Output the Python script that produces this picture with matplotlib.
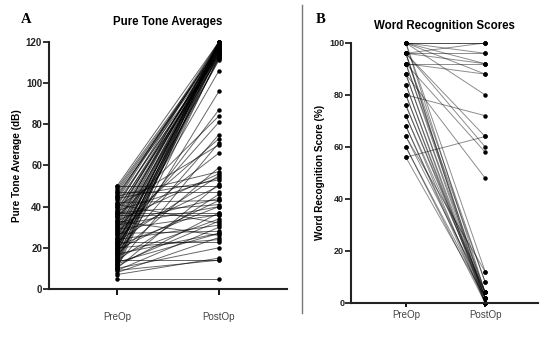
import matplotlib
matplotlib.use("Agg")
import matplotlib.pyplot as plt
from matplotlib.lines import Line2D

plt.rcParams['font.family'] = ['Liberation Sans', 'DejaVu Sans']

groups = ['PreOp', 'PostOp']

# Panel A: pure tone averages (dB), one pair per ear
pta_pre = [12, 15, 18, 20, 22, 25, 28, 30, 33, 35, 38, 40, 42, 45, 48, 50,
           10, 13, 16, 19, 21, 24, 27, 29, 31, 34, 36, 39, 41, 43, 46, 49,
           11, 14, 17, 23, 26, 32, 37, 44, 47, 20, 18, 22, 25,
           20, 15, 22, 35, 25, 18, 30, 12, 40, 28, 17, 45, 33, 23, 38, 10,
           50, 26, 14, 32, 19, 47, 37, 21, 11, 37, 29, 16, 41, 24, 9, 27,
           13, 33, 8, 20, 23, 10, 7, 14, 5, 36, 42, 31, 17, 44, 12, 9]
pta_post = [120, 119, 118, 120, 117, 116, 120, 118, 115, 119, 117, 120, 114, 118, 116, 120,
            113, 115, 112, 116, 119, 114, 117, 113, 120, 116, 118, 112, 115, 119, 113, 117,
            118, 116, 120, 111, 119, 117, 114, 120, 115, 112, 114, 119, 118,
            106, 96, 87, 84, 81, 75, 73, 71, 70, 66, 59, 57, 56, 55, 54, 51,
            50, 50, 46, 44, 43, 47, 41, 40, 37, 37, 36, 34, 32, 31, 30, 28,
            27, 26, 25, 24, 23, 20, 15, 14, 5, 36, 43, 40, 27, 53, 33, 14]

# Panel B: word recognition scores (%)
wrs_pre = [100, 100, 100, 100, 100, 96, 96, 92, 92, 96, 80, 56,
           100, 96, 92, 96, 88,
           100, 96, 92, 88, 84, 80, 76, 72, 68, 64, 60, 56,
           100, 96, 96, 92, 88, 84, 80, 76, 72, 68, 64, 60]
wrs_post = [100, 96, 92, 88, 100, 96, 100, 92, 88, 92, 72, 64,
            80, 60, 58, 64, 48,
            12, 8, 4, 2, 0, 2, 4, 0, 2, 4, 0, 2,
            4, 0, 2, 8, 4, 2, 0, 2, 4, 0, 12, 2]

fig = plt.figure(figsize=(5.47, 3.38), dpi=100)


def paired(ax, pre, post, ymax, ystep, ylabel, title, letter, xlim,
           ytick_fs, xtick_len, pad, line_alpha, title_pad):
    for a, b in zip(pre, post):
        ax.plot([0, 1], [a, b], color='black', lw=0.7, alpha=line_alpha,
                solid_capstyle='butt')
    ax.plot([0] * len(pre), pre, 'o', color='black', ms=2.2, clip_on=False)
    ax.plot([1] * len(post), post, 'o', color='black', ms=2.2, clip_on=False)
    ax.set_xlim(*xlim)
    ax.set_ylim(0, ymax)
    ax.set_yticks(range(0, ymax + 1, ystep))
    ax.set_xticks([0, 1])
    ax.set_xticklabels(groups, fontsize=7, color='#444444')
    for t in ax.get_yticklabels():
        t.set_fontweight('bold')
        t.set_fontsize(ytick_fs)
        t.set_color('#222222')
    ax.spines['top'].set_visible(False)
    ax.spines['right'].set_visible(False)
    for s in ('left', 'bottom'):
        ax.spines[s].set_linewidth(1.5)
        ax.spines[s].set_color('#222222')
    ax.tick_params(axis='y', length=4, width=1.3, pad=1, colors='#222222')
    ax.tick_params(axis='x', length=xtick_len, width=1.3, pad=pad)
    ax.set_ylabel(ylabel, fontsize=7.2, fontweight='bold', labelpad=3)
    ax.set_title(title, fontsize=8.3, fontweight='bold', pad=title_pad)
    return ax.text(0, 1.065, letter, transform=ax.transAxes, fontsize=10.5,
                   fontweight='bold', family='Liberation Serif', va='bottom')


axA = fig.add_axes([0.0896, 0.145, 0.435, 0.731])
lblA = paired(axA, pta_pre, pta_post, 120, 20, 'Pure Tone Average (dB)',
              'Pure Tone Averages', 'A', (-0.668, 1.668), 7, 4.5, 12, 0.6, 12)
lblA.set_x(-0.12)

axB = fig.add_axes([0.642, 0.104, 0.342, 0.769])
lblB = paired(axB, wrs_pre, wrs_post, 100, 20, 'Word Recognition Score (%)',
              'Word Recognition Scores', 'B', (-0.69, 1.67), 6.5, 3, 2, 0.45, 10)
lblB.set_x(-0.19)

fig.add_artist(Line2D([302 / 547, 302 / 547], [1 - 5 / 338, 1 - 313 / 338],
                      color='#777777', lw=1.0))

fig.savefig('out.png', dpi=100)
